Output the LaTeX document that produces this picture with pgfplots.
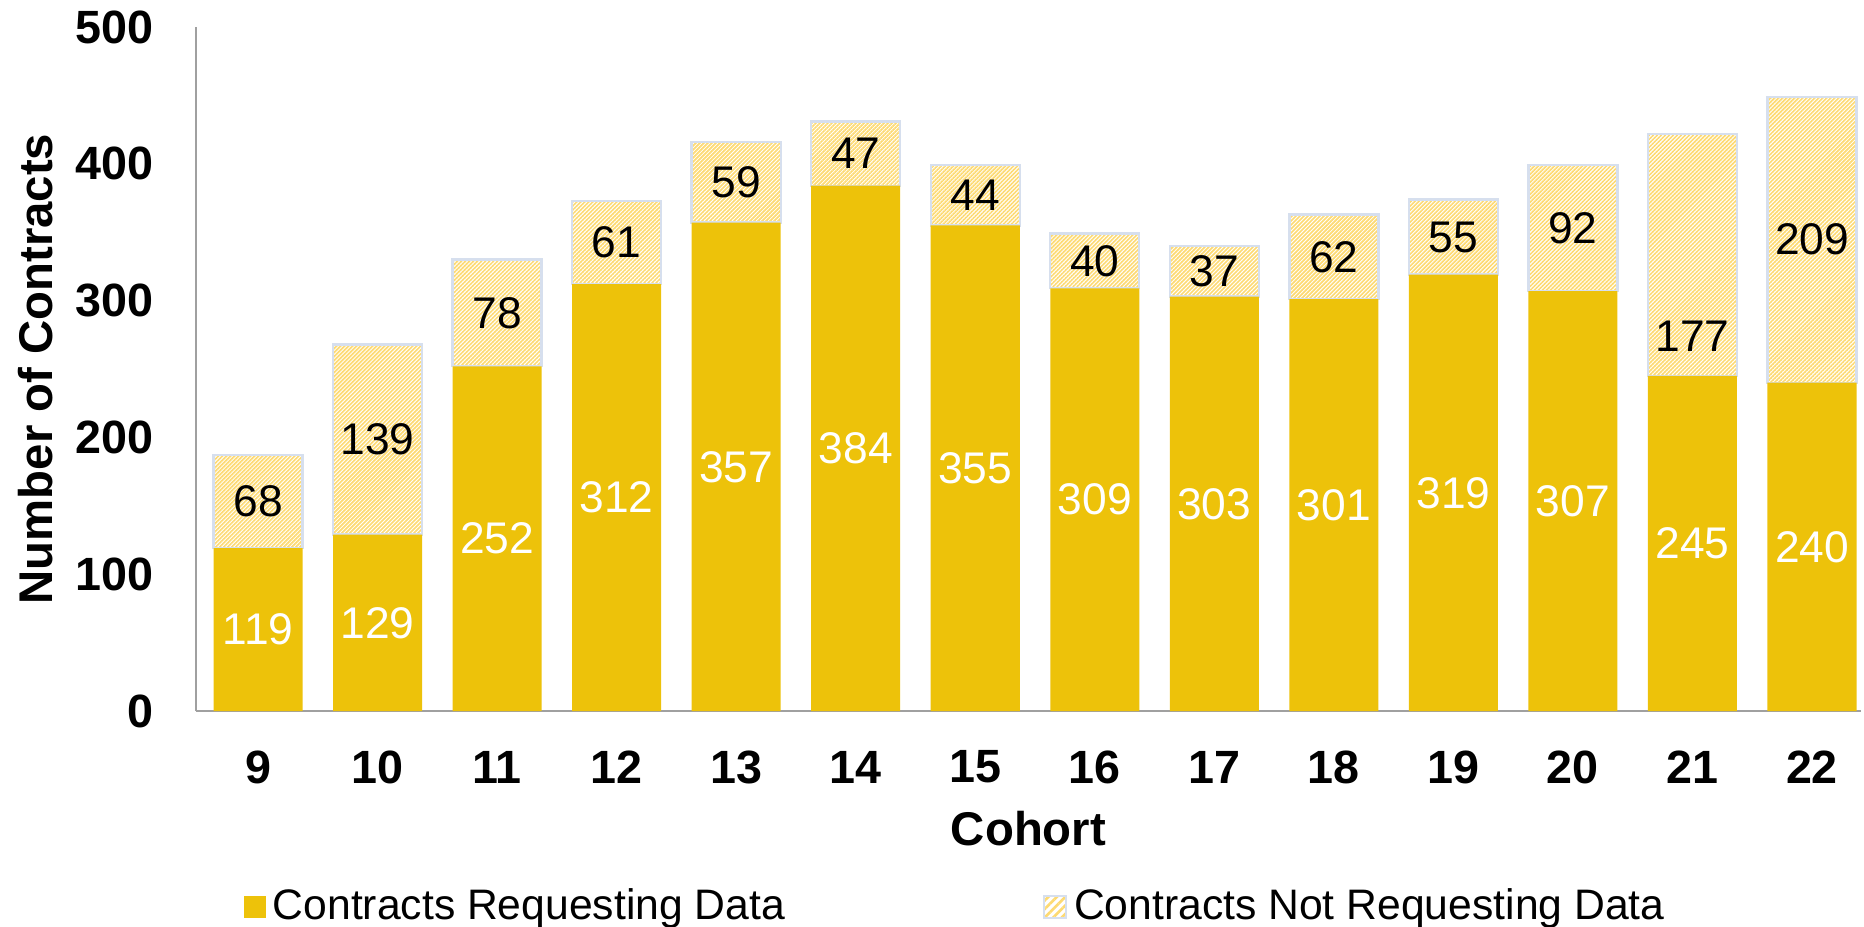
\documentclass[border=0pt]{standalone}
\usepackage{fontspec}
\setmainfont{Liberation Sans}
\usepackage{pgfplots}
\pgfplotsset{compat=1.18}
\usepackage{pgfplotstable}
\usetikzlibrary{patterns.meta}
\definecolor{gold}{RGB}{237,194,10}
\definecolor{hatch}{RGB}{253,218,115}
\definecolor{hatchborder}{RGB}{214,223,238}
\definecolor{axisgray}{RGB}{160,160,160}

\pgfplotstableread{
cohort req notreq
9 119 68
10 129 139
11 252 78
12 312 61
13 357 59
14 384 47
15 355 44
16 309 40
17 303 37
18 301 62
19 319 55
20 307 92
21 245 177
22 240 209
}\datatable

\pgfplotstableread{
x y label
9 59.5 119
10 64.5 129
11 126 252
12 156 312
13 178.5 357
14 192 384
15 177.5 355
16 154.5 309
17 151.5 303
18 150.5 301
19 159.5 319
20 153.5 307
21 122.5 245
22 120 240
}\whitelabels

\pgfplotstableread{
x y label
9 153 68
10 198.5 139
11 291 78
12 342.5 61
13 386.5 59
14 407.5 47
15 377 44
16 329 40
17 321.5 37
18 332 62
19 346.5 55
20 353 92
21 274 177
22 344.5 209
}\blacklabels

\pgfplotsset{common/.style={width=499.5pt,height=205.2pt,scale only axis,
  xmin=8.481,xmax=22.41,ymin=0,ymax=500}}

\begin{document}
\begin{tikzpicture}
\useasboundingbox (-58.8pt,-64.8pt) rectangle (500.4pt,213.3pt);
\begin{axis}[common,
  ybar stacked, bar width=0.745,
  axis x line*=bottom, axis y line*=left,
  axis line style={axisgray, line width=0.6pt, -},
  major tick length=0pt,
  xtick={9,...,22}, ytick={0,100,...,500},
  /pgf/number format/assume math mode=true,
  tick label style={font=\fontsize{14}{16}\selectfont\bfseries},
  xticklabel style={anchor=center, yshift=-16.8pt},
  yticklabel style={anchor=east, inner sep=0pt, xshift=-12.6pt},
  xlabel={Cohort}, ylabel={Number of Contracts},
  label style={font=\fontsize{14.2}{16}\selectfont\bfseries},
  xlabel style={at={(axis description cs:0.5,-0.1725)}, anchor=center},
  ylabel style={at={(axis description cs:-0.0961,0.5)}, anchor=center},
  legend columns=2,
  legend style={draw=none, fill=none, at={(axis description cs:0.0225,-0.2865)}, anchor=west,
    font=\fontsize{12.8}{14}\selectfont,
    /tikz/every even column/.append style={column sep=75.3pt}},
]
\addplot[fill=gold, draw=none,
  legend image code/.code={\fill[gold] (0pt,-3.3pt) rectangle (6.6pt,3.3pt);}]
  table[x=cohort,y=req]{\datatable};
\addlegendentry{Contracts Requesting Data}
\addplot[pattern={Lines[angle=45,distance=0.85pt,line width=0.5pt]}, pattern color=hatch,
  draw=hatchborder, line width=0.7pt,
  legend image code/.code={\draw[hatchborder, line width=0.7pt,
     pattern={Lines[angle=45,distance=1.8pt,line width=0.8pt]}, pattern color=hatch]
     (0pt,-3.3pt) rectangle (6.6pt,3.3pt);}]
  table[x=cohort,y=notreq]{\datatable};
\addlegendentry{Contracts Not Requesting Data}
\end{axis}
\begin{axis}[common, hide axis, clip=false]
\addplot[draw=none, nodes near coords, point meta=explicit symbolic,
  every node near coord/.append style={anchor=center, text=white, inner sep=0pt,
    font=\fontsize{13.3}{15}\selectfont}]
  table[x=x,y=y,meta=label]{\whitelabels};
\addplot[draw=none, nodes near coords, point meta=explicit symbolic,
  every node near coord/.append style={anchor=center, text=black, inner sep=0pt,
    font=\fontsize{13.3}{15}\selectfont}]
  table[x=x,y=y,meta=label]{\blacklabels};
\end{axis}
\end{tikzpicture}
\end{document}
